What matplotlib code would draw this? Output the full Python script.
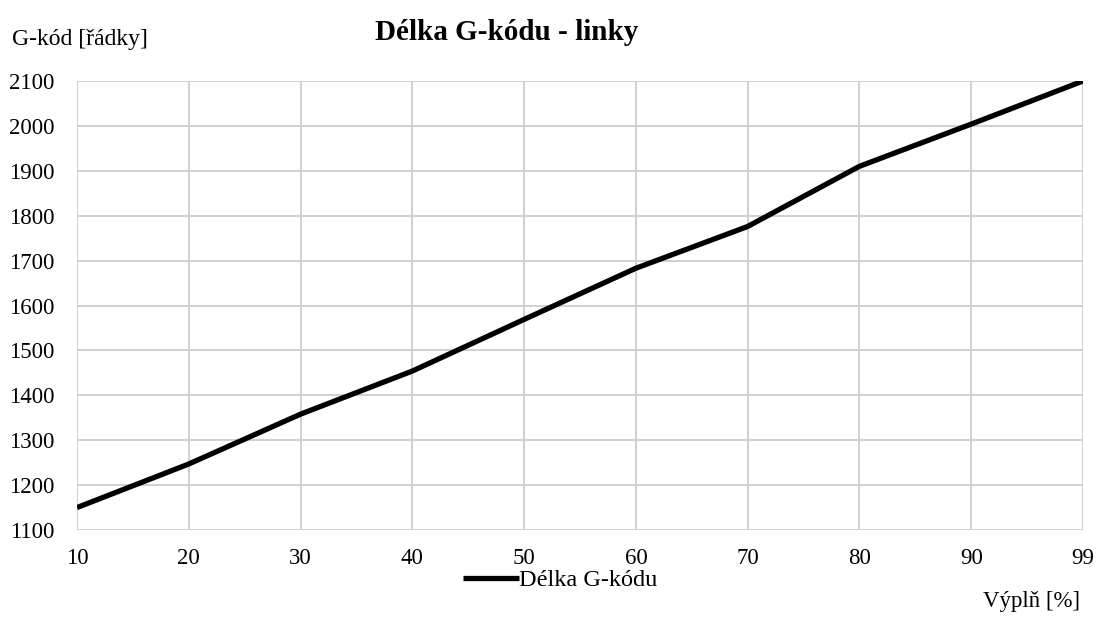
import numpy as np
from matplotlib import pyplot as plt

# data
vypln = ["10", "20", "30", "40", "50", "60", "70", "80", "90", "99"]
delka = [1150, 1247, 1358, 1454, 1569, 1683, 1776, 1910, 2004, 2100]

plt.rcParams['font.family'] = ['Liberation Serif', 'DejaVu Serif']

fig = plt.figure(figsize=(10.98, 6.2), dpi=100)
ax = fig.add_axes([77/1098, 1 - 530/620, (1083-77)/1098, (530-81)/620])

x = np.arange(len(vypln))
line, = ax.plot(x, delka, color="black", linewidth=3.8, solid_capstyle="butt",
                label="Délka G-kódu")

ax.set_xlim(0, len(vypln) - 1)
ax.set_ylim(1100, 2100)
ax.set_xticks(x)
ax.set_xticklabels(vypln)
ax.set_yticks(np.arange(1100, 2101, 100))
ax.grid(True, color="#d0d0d0", linewidth=1.4)
ax.set_axisbelow(True)
for s in ax.spines.values():
    s.set_visible(False)
ax.tick_params(length=0, labelsize=16.5)
ax.tick_params(axis="x", pad=13)
ax.tick_params(axis="y", pad=16)

fig.text(507/1098, 1 - 33/620, "Délka G-kódu - linky", ha="center", va="center",
         fontsize=21, fontweight="bold")
fig.text(12/1098, 1 - 40/620, "G-kód [řádky]", ha="left", va="center", fontsize=17)
fig.text(1080/1098, 1 - 602/620, "Výplň [%]", ha="right", va="center", fontsize=16.5)

fig.legend(handles=[line], loc="center", bbox_to_anchor=(560/1098, 1 - 580/620),
           frameon=False, fontsize=17.5, handlelength=2.3, handletextpad=0.0)

fig.savefig("out.png", dpi=100)
